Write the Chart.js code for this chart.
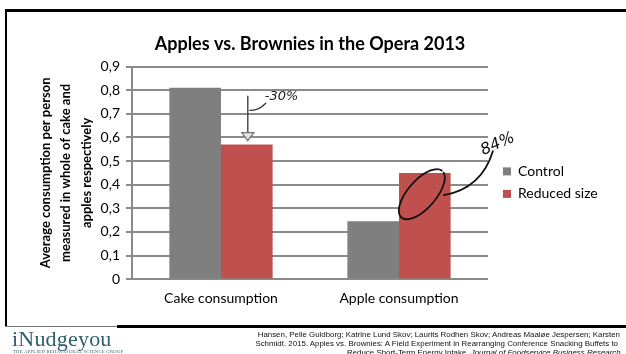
<!DOCTYPE html>
<html>
<head>
<meta charset="utf-8">
<script src="https://cdn.jsdelivr.net/npm/chart.js@4"></script>
<style>
html,body{margin:0;padding:0;background:#fff;}
body{width:626px;height:354px;position:relative;overflow:hidden;font-family:"Liberation Sans",Arial,sans-serif;}
#wrap{position:absolute;left:0;top:0;width:626px;height:322px;}
.ln{position:absolute;background:#000;}
#logo{position:absolute;left:12px;top:328px;font-family:"Liberation Serif","DejaVu Serif",serif;font-size:22px;color:#2f5d6d;letter-spacing:0.2px;line-height:22px;}
#logosub{position:absolute;left:13px;top:349px;font-family:"Liberation Serif",serif;font-size:4.6px;color:#2f5d6d;letter-spacing:0.3px;white-space:nowrap;}
.cite{position:absolute;font-size:7.9px;color:#111;white-space:nowrap;line-height:9px;}
</style>
</head>
<body>
<div id="wrap"><canvas id="c" width="626" height="322"></canvas></div>
<div class="ln" style="left:5px;top:9px;width:621px;height:3px;"></div>
<div class="ln" style="left:5px;top:9px;width:2px;height:318px;"></div>
<div class="ln" style="left:5px;top:326px;width:112px;height:1px;background:#777;"></div>
<div class="ln" style="left:117px;top:325px;width:509px;height:3px;"></div>
<div id="logo">iNudgeyou</div>
<div id="logosub">THE APPLIED BEHAVIOURAL SCIENCE GROUP</div>
<div class="cite" style="right:6px;top:330px;text-align:right;">Hansen, Pelle Guldborg; Katrine Lund Skov; Laurits Rodhen Skov; Andreas Maaløe Jespersen; Karsten</div>
<div class="cite" style="right:8px;top:339px;text-align:right;">Schmidt. 2015. Apples vs. Brownies: A Field Experiment in Rearranging Conference Snacking Buffets to</div>
<div class="cite" style="left:347px;top:348px;">Reduce Short-Term Energy Intake. <i>Journal of Foodservice Business Research</i>.</div>
<script>
const categories = ["Cake consumption", "Apple consumption"];
const seriesNames = ["Control", "Reduced size"];
const controlValues = [0.81, 0.245];
const reducedValues = [0.57, 0.45];
const yTickLabels = ["0", "0,1", "0,2", "0,3", "0,4", "0,5", "0,6", "0,7", "0,8", "0,9"];
const titleText = "Apples vs. Brownies in the Opera 2013";
const yTitle = ["Average consumption per person", "measured in whole of cake and", "apples respectively"];
const noteCake = "-30%";
const noteApple = "84%";

const FONT = "Lato, 'Open Sans', sans-serif";
const gridColor = "#8a8a8a";

// legend drawn beside the plot from the dataset labels and colours
const sideLegend = {
  id: "sideLegend",
  afterDraw(chart) {
    const ctx = chart.ctx;
    const a = chart.chartArea;
    const mid = (a.top + a.bottom) / 2;
    ctx.save();
    ctx.font = "14px " + FONT;
    ctx.textBaseline = "middle";
    chart.data.datasets.forEach((ds, i) => {
      const cy = mid - 1.5 + i * 22.5;
      ctx.fillStyle = ds.backgroundColor;
      ctx.fillRect(a.right + 15, cy - 4, 8, 8);
      ctx.fillStyle = "#000";
      ctx.fillText(ds.label, a.right + 30, cy);
    });
    ctx.restore();
  }
};

const notes = {
  id: "notes",
  afterDatasetsDraw(chart) {
    const ctx = chart.ctx;
    const y = chart.scales.y;
    const b1 = chart.getDatasetMeta(1).data[0];
    const b2 = chart.getDatasetMeta(1).data[1];
    ctx.save();
    ctx.strokeStyle = "#333";
    ctx.fillStyle = "#222";
    ctx.lineWidth = 1.3;
    ctx.lineCap = "round";
    // -30% arrow
    const ax = b1.x + 1;
    const top = y.getPixelForValue(0.775);
    const tip = b1.y - 4;
    ctx.beginPath();
    ctx.moveTo(ax, top);
    ctx.lineTo(ax, tip - 7);
    ctx.stroke();
    ctx.beginPath();
    ctx.moveTo(ax - 6, tip - 8);
    ctx.lineTo(ax + 6, tip - 8);
    ctx.lineTo(ax, tip);
    ctx.closePath();
    ctx.fillStyle = "rgba(230,230,230,0.9)";
    ctx.fill();
    ctx.strokeStyle = "#777";
    ctx.stroke();
    ctx.strokeStyle = "#333";
    const my = y.getPixelForValue(0.715);
    ctx.beginPath();
    ctx.moveTo(ax + 2, my);
    ctx.quadraticCurveTo(ax + 10, my + 1, ax + 18, my - 7);
    ctx.stroke();
    ctx.fillStyle = "#222";
    ctx.font = "italic 13px 'DejaVu Sans', sans-serif";
    ctx.textBaseline = "middle";
    ctx.fillText(noteCake, ax + 17, y.getPixelForValue(0.775));
    // 84% ellipse
    const cx = b2.x - 3;
    const cy = y.getPixelForValue(0.36);
    ctx.lineWidth = 1.8;
    ctx.strokeStyle = "#111";
    ctx.beginPath();
    ctx.ellipse(cx, cy, 31, 14, -0.85, 0.15, Math.PI * 2 - 0.05);
    ctx.stroke();
    ctx.beginPath();
    ctx.moveTo(cx + 22, cy + 1);
    ctx.quadraticCurveTo(cx + 60, cy - 6, cx + 71, cy - 43);
    ctx.stroke();
    ctx.save();
    ctx.translate(cx + 76, cy - 50);
    ctx.rotate(-0.42);
    ctx.font = "italic 16px 'DejaVu Sans', sans-serif";
    ctx.fillStyle = "#111";
    ctx.textAlign = "center";
    ctx.fillText(noteApple, 0, 0);
    ctx.restore();
    ctx.restore();
  }
};

new Chart(document.getElementById("c"), {
  type: "bar",
  data: {
    labels: categories,
    datasets: [
      { label: seriesNames[0], data: controlValues, backgroundColor: "#7f7f7f" },
      { label: seriesNames[1], data: reducedValues, backgroundColor: "#c0504d" }
    ]
  },
  options: {
    responsive: false,
    animation: false,
    layout: { padding: { left: 36, right: 138, top: 33, bottom: 4 } },
    datasets: { bar: { categoryPercentage: 0.58, barPercentage: 1.0 } },
    plugins: {
      title: {
        display: true, text: titleText, color: "#000", fullSize: false,
        font: { family: FONT, size: 18, weight: "bold" },
        padding: { top: 0, bottom: 12 }
      },
      legend: { display: false },
      tooltip: { enabled: false }
    },
    scales: {
      x: {
        grid: { display: false, drawTicks: false },
        border: { display: false },
        ticks: { color: "#000", font: { family: FONT, size: 14 }, padding: 11 }
      },
      y: {
        min: 0, max: 0.9,
        afterFit(s) { s.width = 96; },
        ticks: {
          stepSize: 0.1, color: "#000", padding: 6,
          font: { family: FONT, size: 14 },
          callback: (v, i) => yTickLabels[i]
        },
        grid: { color: gridColor, lineWidth: 2, tickLength: 6 },
        border: { display: true, color: gridColor, width: 2 },
        title: {
          display: true, text: yTitle, color: "#000",
          font: { family: FONT, size: 13, weight: "bold", lineHeight: 1.55 },
          padding: { top: 0, bottom: 0 }
        }
      }
    }
  },
  plugins: [notes, sideLegend]
});
</script>
</body>
</html>
